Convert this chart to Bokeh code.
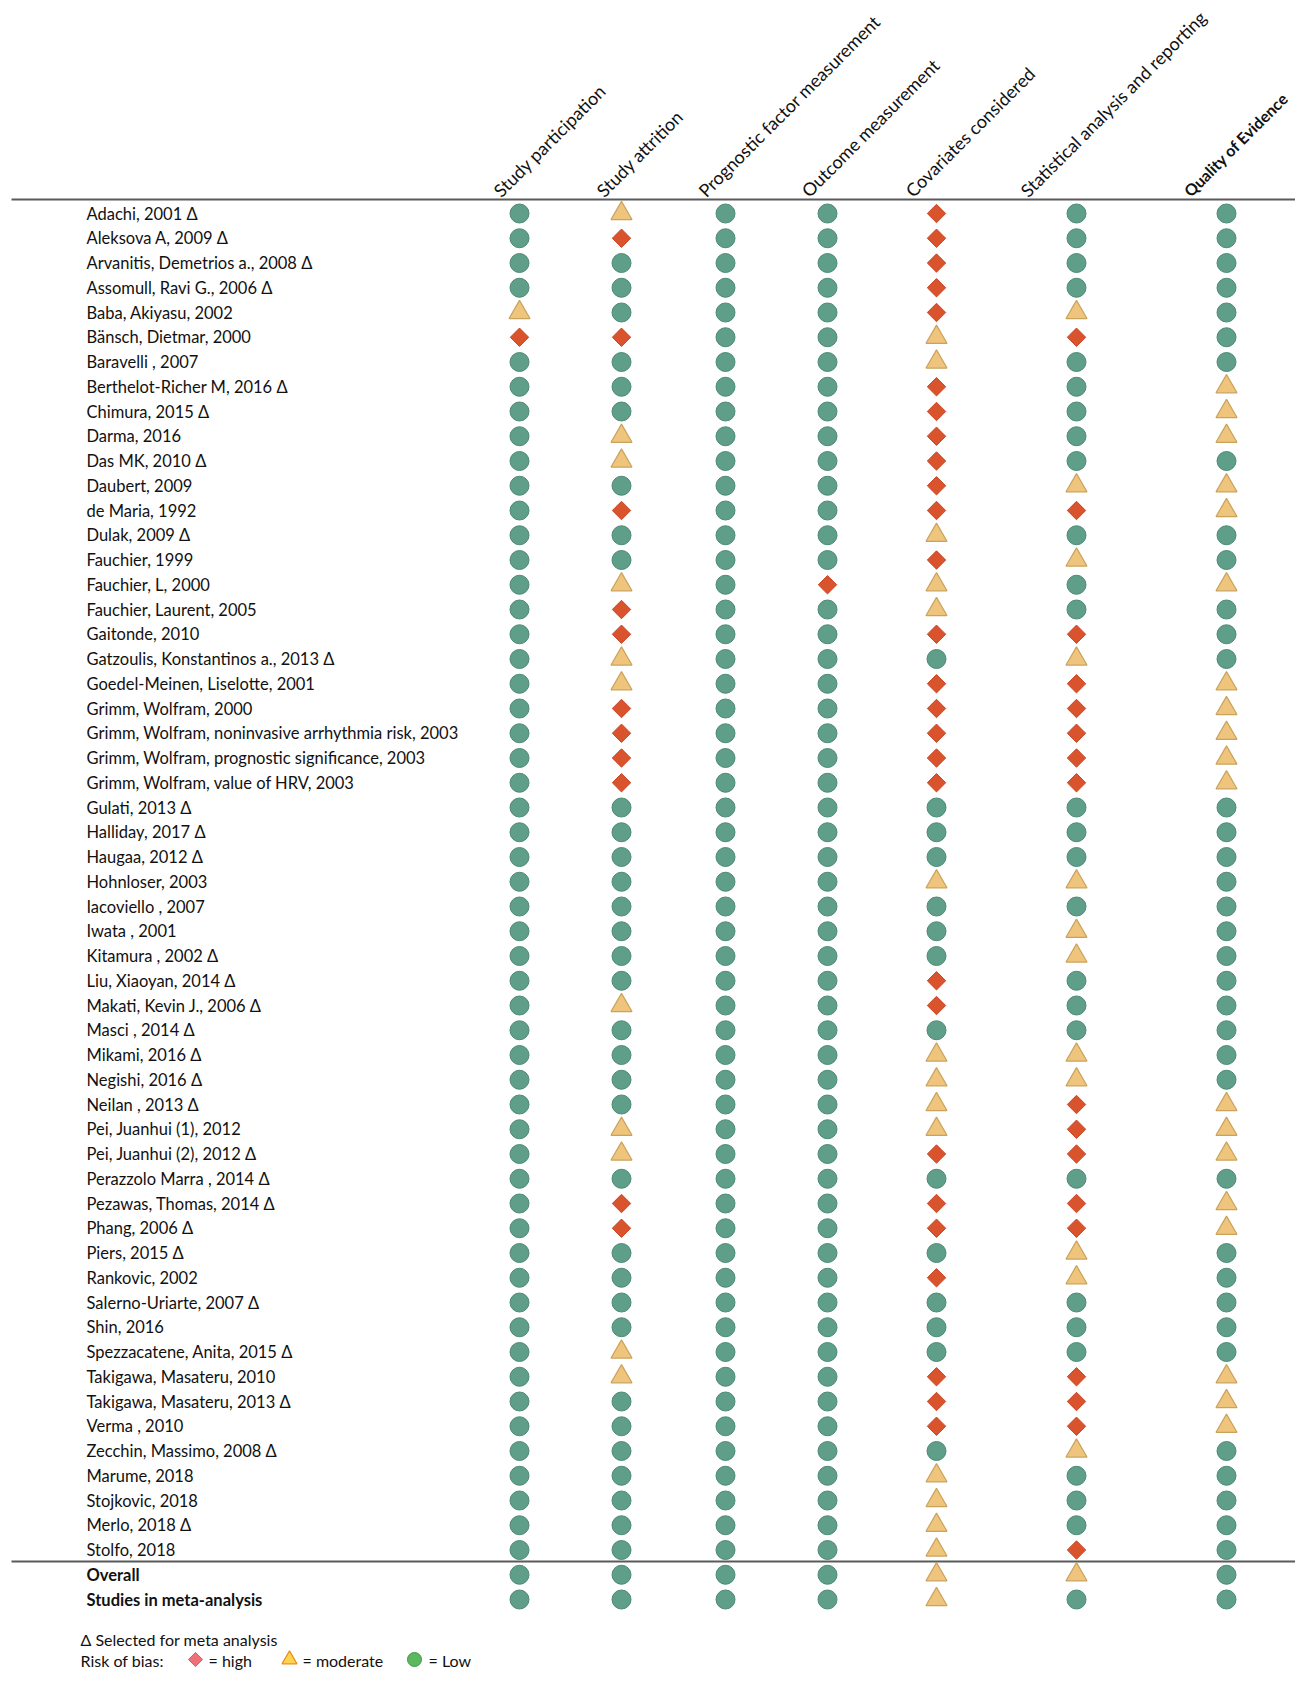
import math
from bokeh.plotting import figure
from bokeh.models import Range1d, ColumnDataSource
from bokeh.core.properties import value
from bokeh.embed import file_html
from bokeh.resources import INLINE

# ---------------- data ----------------
studies = [
    "Adachi, 2001 Δ", "Aleksova A, 2009 Δ", "Arvanitis, Demetrios a., 2008 Δ",
    "Assomull, Ravi G., 2006 Δ", "Baba, Akiyasu, 2002", "Bänsch, Dietmar, 2000",
    "Baravelli , 2007", "Berthelot-Richer M, 2016 Δ", "Chimura, 2015 Δ", "Darma, 2016",
    "Das MK, 2010 Δ", "Daubert, 2009", "de Maria, 1992", "Dulak, 2009 Δ", "Fauchier, 1999",
    "Fauchier, L, 2000", "Fauchier, Laurent, 2005", "Gaitonde, 2010",
    "Gatzoulis, Konstantinos a., 2013 Δ", "Goedel-Meinen, Liselotte, 2001",
    "Grimm, Wolfram, 2000", "Grimm, Wolfram, noninvasive arrhythmia risk, 2003",
    "Grimm, Wolfram, prognostic significance, 2003", "Grimm, Wolfram, value of HRV, 2003",
    "Gulati, 2013 Δ", "Halliday, 2017 Δ", "Haugaa, 2012 Δ", "Hohnloser, 2003",
    "Iacoviello , 2007", "Iwata , 2001", "Kitamura , 2002 Δ", "Liu, Xiaoyan, 2014 Δ",
    "Makati, Kevin J., 2006 Δ", "Masci , 2014 Δ", "Mikami, 2016 Δ", "Negishi, 2016 Δ",
    "Neilan , 2013 Δ", "Pei, Juanhui (1), 2012", "Pei, Juanhui (2), 2012 Δ",
    "Perazzolo Marra , 2014 Δ", "Pezawas, Thomas, 2014 Δ", "Phang, 2006 Δ", "Piers, 2015 Δ",
    "Rankovic, 2002", "Salerno-Uriarte, 2007 Δ", "Shin, 2016", "Spezzacatene, Anita, 2015 Δ",
    "Takigawa, Masateru, 2010", "Takigawa, Masateru, 2013 Δ", "Verma , 2010",
    "Zecchin, Massimo, 2008  Δ", "Marume, 2018", "Stojkovic, 2018", "Merlo, 2018 Δ",
    "Stolfo, 2018",
]
summary_rows = ["Overall", "Studies in meta-analysis"]

domains = ["Study participation", "Study attrition", "Prognostic factor measurement",
           "Outcome measurement", "Covariates considered",
           "Statistical analysis and reporting", "Quality of Evidence"]

# L = low, M = moderate, H = high  (55 studies, then Overall, Studies in meta-analysis)
study_participation = [
    "L","L","L","L","M","H","L","L","L","L","L","L","L","L","L","L","L","L","L","L",
    "L","L","L","L","L","L","L","L","L","L","L","L","L","L","L","L","L","L","L","L",
    "L","L","L","L","L","L","L","L","L","L","L","L","L","L","L","L","L"]
study_attrition = [
    "M","H","L","L","L","H","L","L","L","M","M","L","H","L","L","M","H","H","M","M",
    "H","H","H","H","L","L","L","L","L","L","L","L","M","L","L","L","L","M","M","L",
    "H","H","L","L","L","L","M","M","L","L","L","L","L","L","L","L","L"]
prognostic_factor = [
    "L","L","L","L","L","L","L","L","L","L","L","L","L","L","L","L","L","L","L","L",
    "L","L","L","L","L","L","L","L","L","L","L","L","L","L","L","L","L","L","L","L",
    "L","L","L","L","L","L","L","L","L","L","L","L","L","L","L","L","L"]
outcome_measurement = [
    "L","L","L","L","L","L","L","L","L","L","L","L","L","L","L","H","L","L","L","L",
    "L","L","L","L","L","L","L","L","L","L","L","L","L","L","L","L","L","L","L","L",
    "L","L","L","L","L","L","L","L","L","L","L","L","L","L","L","L","L"]
covariates = [
    "H","H","H","H","H","M","M","H","H","H","H","H","H","M","H","M","M","H","L","H",
    "H","H","H","H","L","L","L","M","L","L","L","H","H","L","M","M","M","M","H","L",
    "H","H","L","H","L","L","L","H","H","H","L","M","M","M","M","M","M"]
statistical_analysis = [
    "L","L","L","L","M","H","L","L","L","L","L","M","H","L","M","L","L","H","M","H",
    "H","H","H","H","L","L","L","M","L","M","M","L","L","L","M","M","H","H","H","L",
    "H","H","M","M","L","L","L","H","H","H","M","L","L","L","H","M","L"]
quality_of_evidence = [
    "L","L","L","L","L","L","L","M","M","M","L","M","M","L","L","M","L","L","L","M",
    "M","M","M","M","L","L","L","L","L","L","L","L","L","L","L","L","M","M","M","L",
    "M","M","L","L","L","L","L","M","M","M","L","L","L","L","L","L","L"]

ratings = [study_participation, study_attrition, prognostic_factor, outcome_measurement,
           covariates, statistical_analysis, quality_of_evidence]

legend_note = "Δ Selected for meta analysis"
legend_title = "Risk of bias:"
legend_labels = ["= high", "= moderate", "=  Low"]

# ---------------- layout (picture pixels) ----------------
W, H = 1295, 1678
ROW0 = 213.0      # pixel of first row
ROW_H = 24.75     # row pitch


def r(px):
    return (px - ROW0) / ROW_H


col_x = [519, 621, 725, 827, 936, 1076, 1226]
head_x = [496, 599, 701, 804, 908, 1023, 1186]
head_y = r(193)
label_x = 86
FONT = value("Lato")
INK = "#111111"

p = figure(width=W, height=H, x_range=Range1d(0, W),
           y_range=Range1d(r(H), r(0)),
           output_backend="svg", toolbar_location=None, min_border=0)
p.axis.visible = False
p.xgrid.visible = False
p.ygrid.visible = False
p.outline_line_color = None
p.background_fill_color = "white"
p.border_fill_color = "white"

all_labels = studies + summary_rows
n_all = len(all_labels)

# rules
p.segment(x0=[11, 11], x1=[1295, 1295], y0=[r(199), r(1561)], y1=[r(199), r(1561)],
          line_color="#5a5a5a", line_width=2)

# headers
hsrc = ColumnDataSource(dict(x=head_x[:-1], y=[head_y] * (len(domains) - 1), t=domains[:-1]))
p.text(x="x", y="y", text="t", source=hsrc, angle=math.pi / 4, text_font=FONT,
       text_font_size="18px", text_align="left", text_baseline="alphabetic", text_color=INK)
p.text(x=[head_x[-1]], y=[head_y], text=[domains[-1]], angle=math.pi / 4, text_font=FONT,
       text_font_size="16px", text_font_style="bold", text_align="left",
       text_baseline="alphabetic", text_color=INK)

# row labels
p.text(x=[label_x] * len(studies), y=list(range(len(studies))), text=studies, text_font=FONT,
       text_font_size="16.5px", text_align="left", text_baseline="middle", text_color=INK)
p.text(x=[label_x] * len(summary_rows),
       y=list(range(len(studies), n_all)), text=summary_rows, text_font=FONT,
       text_font_size="16.5px", text_font_style="bold", text_align="left",
       text_baseline="middle", text_color=INK)

# markers
pts = {"L": dict(x=[], y=[]), "M": dict(x=[], y=[]), "H": dict(x=[], y=[])}
for j, col in enumerate(ratings):
    for i, code in enumerate(col):
        pts[code]["x"].append(col_x[j])
        pts[code]["y"].append(i)

p.scatter(x="x", y="y", source=ColumnDataSource(pts["L"]), marker="circle", size=19,
          fill_color="#5F9F8A", line_color="#4C8A75", line_width=1)
p.scatter(x="x", y="y", source=ColumnDataSource(pts["M"]), marker="triangle", size=21,
          fill_color="#EFC47D", line_color="#C9A35C", line_width=1.2)
p.scatter(x="x", y="y", source=ColumnDataSource(pts["H"]), marker="square", size=13,
          angle=math.pi / 4, fill_color="#D9532C", line_color="#C9482A", line_width=1)

# legend
p.text(x=[80], y=[r(1639)], text=[legend_note], text_font=FONT, text_font_size="16px",
       text_align="left", text_baseline="middle", text_color=INK)
p.text(x=[80], y=[r(1660)], text=[legend_title], text_font=FONT, text_font_size="16px",
       text_align="left", text_baseline="middle", text_color=INK)
p.scatter(x=[195], y=[r(1659)], marker="square", size=10, angle=math.pi / 4,
          fill_color="#F0707A", line_color="#D85A64", line_width=1)
p.scatter(x=[289], y=[r(1659)], marker="triangle", size=15,
          fill_color="#FFD34F", line_color="#E8901E", line_width=1.2)
p.scatter(x=[414], y=[r(1659)], marker="circle", size=14,
          fill_color="#5CB85F", line_color="#3F9A45", line_width=1)
p.text(x=[208, 302, 428], y=[r(1660)] * 3, text=legend_labels, text_font=FONT,
       text_font_size="16px", text_align="left", text_baseline="middle", text_color=INK)

open("out.html", "w").write(file_html(p, INLINE))
